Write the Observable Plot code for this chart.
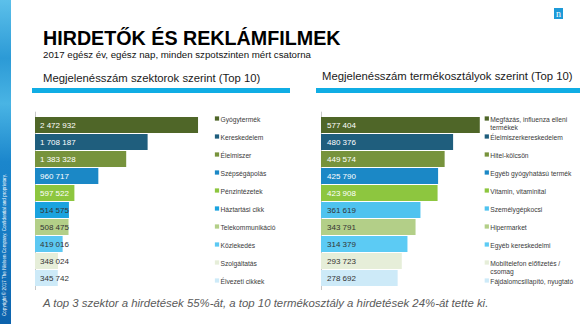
<!DOCTYPE html>
<html>
<head>
<meta charset="utf-8">
<script src="https://cdn.jsdelivr.net/npm/d3@7"></script>
<script src="https://cdn.jsdelivr.net/npm/@observablehq/plot@0.6"></script>
<style>
  html, body { margin: 0; padding: 0; background: #fff; }
  #page { position: relative; width: 580px; height: 324px; overflow: hidden; background: #fff;
          font-family: "Liberation Sans", Arial, sans-serif; }
  .abs { position: absolute; white-space: nowrap; line-height: 1; }
  #page svg { position: absolute; overflow: visible; }
</style>
</head>
<body>
<div id="page">
  <div class="abs" style="left:0;top:0;width:11px;height:324px;background:linear-gradient(180deg,#5cc0ea 0%,#2c9ad6 18%,#49b4e4 32%,#1b86cc 50%,#157cc4 72%,#0c62ac 100%);"></div>
  <div class="abs" id="copy" style="left:3px;top:316px;transform:rotate(-90deg);transform-origin:left top;font-size:4.6px;color:#fff;"></div>
  <div class="abs" id="logo" style="left:554px;top:8px;width:9px;height:11px;background:#1d9ad8;color:#fff;font-family:'Liberation Serif',serif;font-size:10px;line-height:11px;text-align:center;"></div>
  <div class="abs" id="title" style="left:43px;top:29.4px;font-size:19.7px;font-weight:bold;color:#000;"></div>
  <div class="abs" id="subtitle" style="left:43px;top:50.1px;font-size:9.7px;color:#111;"></div>
  <div class="abs" id="headL" style="left:43px;top:73px;font-size:11.3px;color:#1a1a1a;"></div>
  <div class="abs" id="headR" style="left:322px;top:71px;font-size:11.3px;color:#1a1a1a;"></div>
  <div class="abs" style="left:32px;top:88px;width:258px;height:4.7px;background:#10ade4;"></div>
  <div class="abs" style="left:316px;top:88px;width:264px;height:4.7px;background:#10ade4;"></div>
  <div class="abs" id="footer" style="left:43px;top:297.8px;font-size:11.4px;font-style:italic;color:#5a5a5a;"></div>
</div>
<script>
// ---- texts ----
const titleText = "HIRDETŐK ÉS REKLÁMFILMEK";
const subtitleText = "2017 egész év, egész nap, minden szpotszinten mért csatorna";
const headingLeft = "Megjelenésszám szektorok szerint (Top 10)";
const headingRight = "Megjelenésszám termékosztályok szerint (Top 10)";
const footerText = "A top 3 szektor a hirdetések 55%-át, a top 10 termékosztály a hirdetések 24%-át tette ki.";
const copyrightText = "Copyright © 2017 The Nielsen Company. Confidential and proprietary.";
const logoText = "n";

// ---- data ----
const sectors = ["Gyógytermék","Kereskedelem","Élelmiszer","Szépségápolás","Pénzintézetek","Háztartási cikk","Telekommunikáció","Közlekedés","Szolgáltatás","Élvezeti cikkek"];
const sectorCounts = [2472932,1708187,1383328,960717,597522,514575,508475,419016,348024,345742];
const productClasses = ["Megfázás, influenza elleni\ntermékek","Élelmiszerkereskedelem","Hitel-kölcsön","Egyéb gyógyhatású termék","Vitamin, vitaminital","Személygépkocsi","Hipermarket","Egyéb kereskedelmi","Mobiltelefon előfizetés /\ncsomag","Fájdalomcsillapító, nyugtató"];
const productCounts = [577404,480376,449574,425790,423908,361619,343791,314379,293723,278692];

// ---- styles ----
const paletteLeft  = ["#4f6628","#1f5e7d","#77933c","#1b88c6","#8dc63f","#1aa3df","#b3cf88","#5cc8f2","#e6eed9","#cdeaf8"];
const paletteRight = ["#4f6628","#1f5e7d","#77933c","#1b88c6","#8dc63f","#4fc3ef","#b3cf88","#5ccbf4","#e6eed9","#cdeaf8"];
const whiteLabelCount = 5;
const FONT = "Liberation Sans, Arial, sans-serif";

document.getElementById("title").textContent = titleText;
document.getElementById("subtitle").textContent = subtitleText;
document.getElementById("headL").textContent = headingLeft;
document.getElementById("headR").textContent = headingRight;
document.getElementById("footer").textContent = footerText;
document.getElementById("copy").textContent = copyrightText;
document.getElementById("logo").textContent = logoText;

const fmt = d3.formatLocale({decimal: ",", thousands: "\u00a0", grouping: [3], currency: ["", ""]}).format(",d");

function rows(names, values, palette) {
  return names.map((name, i) => ({
    name, value: values[i], color: palette[i],
    ink: i < whiteLabelCount ? "#ffffff" : "#333333"
  }));
}

function bars(data, {left, width, marginLeft, xMax, labelDx}) {
  const svg = Plot.plot({
    width, height: 200,
    marginLeft, marginRight: 0, marginTop: 11.7, marginBottom: 10,
    style: {fontFamily: FONT, background: "transparent"},
    x: {domain: [0, xMax], axis: null},
    y: {domain: data.map(d => d.name), axis: null, paddingInner: 0.08, paddingOuter: 0.04},
    color: {type: "identity"},
    marks: [
      Plot.ruleX([0], {stroke: "#c8c8c8", strokeWidth: 1}),
      Plot.barX(data, {x: "value", y: "name", fill: "color"}),
      Plot.text(data, {y: "name", frameAnchor: "left", text: d => fmt(d.value), textAnchor: "start",
                       dx: labelDx, fill: "ink", fontSize: 8, lineAnchor: "middle"})
    ]
  });
  svg.style.left = left + "px";
  svg.style.top = "100px";
  return svg;
}

function legend(data, {left, width, marginLeft}) {
  const svg = Plot.plot({
    width, height: 200,
    marginLeft, marginRight: 0, marginTop: 15, marginBottom: 17.7,
    style: {fontFamily: FONT, background: "transparent"},
    y: {type: "point", domain: data.map(d => d.name), axis: null, padding: 0},
    color: {type: "identity"},
    marks: [
      Plot.dot(data, {y: "name", frameAnchor: "left", symbol: "square", r: 2.4, fill: "color", stroke: null}),
      Plot.text(data, {y: "name", frameAnchor: "left", text: "name", textAnchor: "start", dx: 3.5,
                       fontSize: 6.7, fill: "#3a3a3a", lineAnchor: "top", dy: -2.6, lineHeight: 1.22})
    ]
  });
  svg.style.left = left + "px";
  svg.style.top = "100px";
  return svg;
}

const page = document.getElementById("page");
const L = rows(sectors, sectorCounts, paletteLeft);
const R = rows(productClasses, productCounts, paletteRight);
page.appendChild(bars(L, {left: 30, width: 183, marginLeft: 5, xMax: 2700000, labelDx: 4.5}));
page.appendChild(legend(L, {left: 210, width: 80, marginLeft: 6.5}));
page.appendChild(bars(R, {left: 300, width: 186, marginLeft: 21, xMax: 600000, labelDx: 5.5}));
page.appendChild(legend(R, {left: 480, width: 100, marginLeft: 6.3}));
</script>
</body>
</html>
